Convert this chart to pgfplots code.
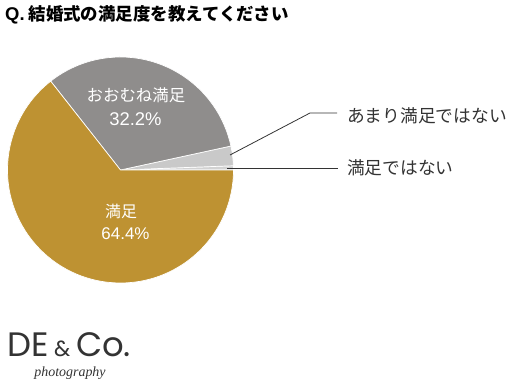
\documentclass[border=0pt]{standalone}
\usepackage{pgfplots}
\pgfplotsset{compat=1.18}
\usepackage{fontspec}
\setmainfont{Noto Sans CJK JP}
\newfontfamily\pctfont{Liberation Sans}
\newfontfamily\logofont{Poppins}
\newfontfamily\photofont{Liberation Serif}
\definecolor{cGold}{HTML}{BE9232}
\definecolor{cGray}{HTML}{8F8D8C}
\definecolor{cLight}{HTML}{C9C9C9}
\definecolor{cLighter}{HTML}{D2D2D2}
\definecolor{txt}{HTML}{333333}
% data (percent), counter-clockwise from 3 o'clock
\def\vA{0.6}  % 満足ではない
\def\vB{2.8}  % あまり満足ではない
\def\vC{32.2} % おおむね満足
\def\vD{64.4} % 満足
\pgfmathsetmacro\aA{0}
\pgfmathsetmacro\aB{\aA+3.6*\vA}
\pgfmathsetmacro\aC{\aB+3.6*\vB}
\pgfmathsetmacro\aD{\aC+3.6*\vC}
\pgfmathsetmacro\aE{\aD+3.6*\vD}
\def\cx{120.5}
\def\cy{210}
\def\R{113}
\begin{document}
\begin{tikzpicture}
\useasboundingbox (0,0) rectangle (521bp,380bp);
\begin{axis}[at={(0,0)}, anchor=south west, x=1bp, y=1bp,
  xmin=0, xmax=521, ymin=0, ymax=380, hide axis, clip=false]
\fill[cLighter, draw=white, line width=0.7pt] (\cx,\cy) -- ({\cx+\R*cos(\aA)},{\cy+\R*sin(\aA)}) arc[start angle=\aA, end angle=\aB, radius=\R bp] -- cycle;
\fill[cLight, draw=white, line width=0.7pt] (\cx,\cy) -- ({\cx+\R*cos(\aB)},{\cy+\R*sin(\aB)}) arc[start angle=\aB, end angle=\aC, radius=\R bp] -- cycle;
\fill[cGray, draw=white, line width=0.7pt] (\cx,\cy) -- ({\cx+\R*cos(\aC)},{\cy+\R*sin(\aC)}) arc[start angle=\aC, end angle=\aD, radius=\R bp] -- cycle;
\fill[cGold, draw=white, line width=0.7pt] (\cx,\cy) -- ({\cx+\R*cos(\aD)},{\cy+\R*sin(\aD)}) arc[start angle=\aD, end angle=\aE, radius=\R bp] -- cycle;
% inside labels
\node[white, inner sep=0, font=\fontsize{16.5}{18}\selectfont] at (136,285) {おおむね満足};
\node[white, inner sep=0, font=\pctfont\fontsize{18.5}{20}\selectfont] at (135.5,261) {32.2\%};
\node[white, inner sep=0, font=\fontsize{16}{18}\selectfont] at (121,168.5) {満足};
\node[white, inner sep=0, font=\pctfont\fontsize{17}{20}\selectfont] at (125.5,146) {64.4\%};
% leader lines and outside labels
\draw[txt, line width=0.8pt] (230,225) -- (310,267) -- (337,267);
\node[txt, inner sep=0, anchor=west, font=\fontsize{17.8}{20}\selectfont] at (347,264) {あまり満足ではない};
\draw[txt, line width=0.8pt] (227,212) -- (338,212);
\node[txt, inner sep=0, anchor=west, font=\fontsize{17.8}{20}\selectfont] at (347,212.5) {満足ではない};
% title
\node[black, inner sep=0, anchor=west, font=\bfseries\fontsize{17.5}{20}\selectfont] at (5,365.5) {{\pctfont\fontsize{18.5}{20}\selectfont Q.} 結婚式の満足度を教えてください};
% logo
\node[txt, inner sep=0, anchor=base west, font=\logofont\fontsize{34}{36}\selectfont] at (7,23.5) {DE\,{\fontsize{22}{24}\selectfont\&}\,Co.};
\node[txt, inner sep=0, anchor=base, font=\photofont\itshape\fontsize{14}{16}\selectfont] at (70,3.5) {photography};
\end{axis}
\end{tikzpicture}
\end{document}
